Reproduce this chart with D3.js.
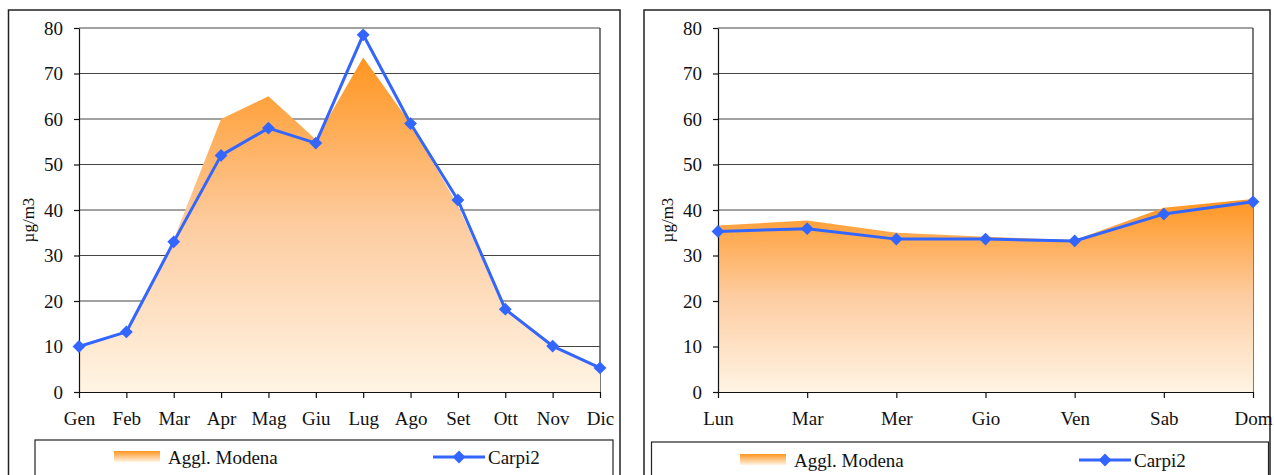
<!DOCTYPE html>
<html>
<head>
<meta charset="utf-8">
<script src="https://cdn.jsdelivr.net/npm/d3@7"></script>
<style>
  html, body { margin: 0; padding: 0; background: #fff; }
  svg { display: block; }
</style>
</head>
<body>
<svg id="chart" width="1274" height="475"></svg>
<script>
// monthly panel
const months = ["Gen", "Feb", "Mar", "Apr", "Mag", "Giu", "Lug", "Ago", "Set", "Ott", "Nov", "Dic"];
const modenaMonthly = [10, 13, 33.5, 60, 65, 55.5, 73.5, 59, 41, 18, 10, 5.5];
const carpiMonthly = [10, 13.2, 33, 52, 58, 54.7, 78.5, 59, 42.2, 18.2, 10.1, 5.3];

// weekday panel
const days = ["Lun", "Mar", "Mer", "Gio", "Ven", "Sab", "Dom"];
const modenaWeekly = [36.6, 37.7, 35, 34.1, 33.4, 40.5, 42.4];
const carpiWeekly = [35.3, 35.9, 33.6, 33.6, 33.2, 39.1, 41.8];

const yTicks = [0, 10, 20, 30, 40, 50, 60, 70, 80];
const yLabel = "µg/m3";
const seriesNames = ["Aggl. Modena", "Carpi2"];

const svg = d3.select("#chart");
const font = "Liberation Serif, Times New Roman, serif";
const blue = "#3366ff";

// gradient for the area (relative to the shape's own box, like Excel)
const defs = svg.append("defs");
const grad = defs.append("linearGradient")
  .attr("id", "orangeFill")
  .attr("x1", 0).attr("y1", 0).attr("x2", 0).attr("y2", 1);
grad.append("stop").attr("offset", "0%").attr("stop-color", "#ff951f");
grad.append("stop").attr("offset", "50%").attr("stop-color", "#fdcca0");
grad.append("stop").attr("offset", "100%").attr("stop-color", "#fff4e4");

function drawPanel(p) {
  const g = svg.append("g");

  // outer chart frame
  g.append("rect")
    .attr("x", p.frame[0]).attr("y", p.frame[1])
    .attr("width", p.frame[2]).attr("height", p.frame[3])
    .attr("fill", "none").attr("stroke", "#222").attr("stroke-width", 1.5);

  const x = d3.scalePoint().domain(p.cats).range([p.left, p.right]);
  const y = d3.scaleLinear().domain([0, 80]).range([392, 28]);

  // plot area right border
  g.append("line")
    .attr("x1", p.right).attr("x2", p.right)
    .attr("y1", y(80)).attr("y2", y(0))
    .attr("stroke", "#222").attr("stroke-width", 1.2);

  // gridlines
  g.append("g").selectAll("line")
    .data(yTicks.filter(d => d > 0))
    .join("line")
    .attr("x1", p.left).attr("x2", p.right)
    .attr("y1", d => y(d)).attr("y2", d => y(d))
    .attr("stroke", "#444").attr("stroke-width", 1);

  // area series
  const area = d3.area()
    .x((d, i) => x(p.cats[i]))
    .y0(y(0))
    .y1(d => y(d));
  g.append("path")
    .datum(p.modena)
    .attr("d", area)
    .attr("fill", "url(#orangeFill)");

  // axes
  const yAxis = g.append("g")
    .attr("transform", `translate(${p.left},0)`)
    .call(d3.axisLeft(y).tickValues(yTicks).tickSize(5).tickSizeOuter(0).tickPadding(11));
  const xAxis = g.append("g")
    .attr("transform", `translate(0,${y(0)})`)
    .call(d3.axisBottom(x).tickSize(6).tickSizeOuter(0).tickPadding(14));
  [yAxis, xAxis].forEach(a => {
    a.selectAll("path, line").attr("stroke", "#111").attr("stroke-width", 1.2);
    a.selectAll("text")
      .attr("font-family", font)
      .attr("font-size", 19)
      .attr("fill", "#111");
  });

  // axis title
  g.append("text")
    .attr("transform", `translate(${p.left - 45},${(y(0) + y(80)) / 2 + 10}) rotate(-90)`)
    .attr("text-anchor", "middle")
    .attr("font-family", font)
    .attr("font-size", 17)
    .attr("fill", "#111")
    .text(yLabel);

  // line series
  const line = d3.line()
    .x((d, i) => x(p.cats[i]))
    .y(d => y(d));
  g.append("path")
    .datum(p.carpi)
    .attr("d", line)
    .attr("fill", "none")
    .attr("stroke", blue)
    .attr("stroke-width", 3)
    .attr("stroke-linejoin", "round");

  const diamond = d3.symbol().type(d3.symbolDiamond2).size(105);
  g.append("g").selectAll("path")
    .data(p.carpi)
    .join("path")
    .attr("d", diamond)
    .attr("transform", (d, i) => `translate(${x(p.cats[i])},${y(d)})`)
    .attr("fill", blue);

  // legend
  const lg = p.legend;
  g.append("rect")
    .attr("x", lg.box[0]).attr("y", lg.box[1])
    .attr("width", lg.box[2]).attr("height", 80)
    .attr("fill", "#fff").attr("stroke", "#222").attr("stroke-width", 1.2);
  const swatchGrad = defs.append("linearGradient")
    .attr("id", "swatch" + p.id)
    .attr("x1", 0).attr("y1", 0).attr("x2", 0).attr("y2", 1);
  swatchGrad.append("stop").attr("offset", "0%").attr("stop-color", "#ff951f");
  swatchGrad.append("stop").attr("offset", "100%").attr("stop-color", "#fff4e4");
  g.append("rect")
    .attr("x", lg.swatchX).attr("y", lg.cy - 6)
    .attr("width", 46).attr("height", 11)
    .attr("fill", `url(#swatch${p.id})`);
  g.append("text")
    .attr("x", lg.swatchX + 54).attr("y", lg.cy + 7)
    .attr("font-family", font).attr("font-size", 19).attr("fill", "#111")
    .text(seriesNames[0]);
  g.append("line")
    .attr("x1", lg.lineX).attr("x2", lg.lineX + 52)
    .attr("y1", lg.cy).attr("y2", lg.cy)
    .attr("stroke", blue).attr("stroke-width", 3);
  g.append("path")
    .attr("d", diamond)
    .attr("transform", `translate(${lg.lineX + 26},${lg.cy})`)
    .attr("fill", blue);
  g.append("text")
    .attr("x", lg.lineX + 55).attr("y", lg.cy + 7)
    .attr("font-family", font).attr("font-size", 19).attr("fill", "#111")
    .text(seriesNames[1]);
}

drawPanel({
  id: 1,
  cats: months, modena: modenaMonthly, carpi: carpiMonthly,
  left: 79, right: 600,
  frame: [8.5, 10, 611.5, 480],
  legend: { box: [35, 440, 578], swatchX: 114, lineX: 433, cy: 457 }
});

drawPanel({
  id: 2,
  cats: days, modena: modenaWeekly, carpi: carpiWeekly,
  left: 718, right: 1253,
  frame: [644, 10, 626, 480],
  legend: { box: [651.5, 442, 617], swatchX: 740, lineX: 1079, cy: 460 }
});
</script>
</body>
</html>
